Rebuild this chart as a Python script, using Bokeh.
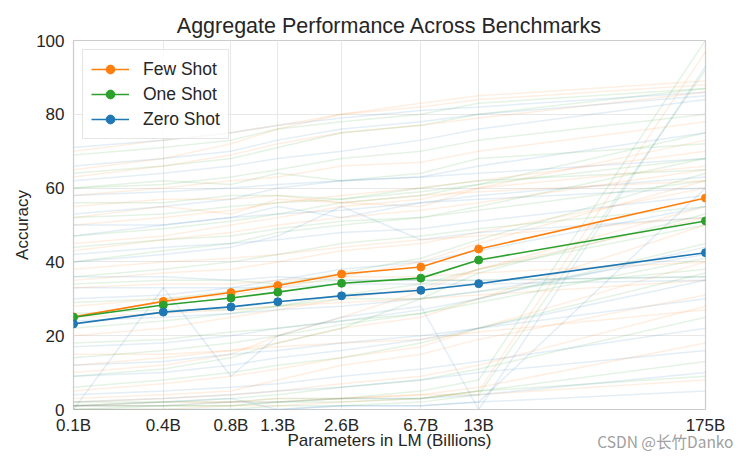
from bokeh.plotting import figure
from bokeh.models import FixedTicker, Legend, LegendItem, Title
from bokeh.embed import file_html
from bokeh.resources import INLINE

params = [0.125, 0.35, 0.76, 1.3, 2.7, 6.7, 13, 175]
tick_labels = ["0.1B", "0.4B", "0.8B", "1.3B", "2.6B", "6.7B", "13B", "175B"]

few_shot = [25.1, 29.3, 31.7, 33.6, 36.7, 38.6, 43.5, 57.3]
one_shot = [25.0, 28.3, 30.2, 31.8, 34.2, 35.6, 40.5, 51.1]
zero_shot = [23.2, 26.4, 27.8, 29.2, 30.8, 32.3, 34.1, 42.5]

few_bg = [
    [63, 66, 69, 72, 75, 77, 79, 86],
    [58, 60, 62, 63, 66, 67, 70, 78],
    [50, 52, 54, 56, 58, 60, 62, 70],
    [43, 46, 48, 50, 52, 54, 56, 65],
    [35, 37, 38, 40, 43, 45, 48, 60],
    [33, 34, 34, 35, 36, 36, 37, 40],
    [28, 30, 31, 33, 36, 40, 45, 62],
    [20, 22, 25, 27, 30, 33, 38, 55],
    [12, 14, 16, 18, 22, 25, 30, 50],
    [5, 7, 9, 11, 14, 17, 22, 40],
    [2, 3, 4, 5, 7, 9, 12, 28],
    [1, 1, 2, 2, 3, 4, 6, 18],
    [0, 0, 1, 1, 2, 3, 5, 97],
    [65, 68, 72, 76, 80, 83, 85, 89],
    [55, 57, 57, 58, 56, 58, 59, 62],
    [25, 26, 27, 28, 29, 30, 31, 35],
    [45, 47, 50, 52, 55, 57, 60, 73],
    [10, 12, 15, 20, 25, 32, 38, 52],
    [3, 4, 5, 8, 12, 15, 19, 31],
    [38, 40, 41, 42, 44, 46, 47, 52],
    [70, 73, 75, 77, 80, 82, 84, 88],
    [15, 15, 16, 17, 18, 19, 21, 27],
    [52, 55, 53, 57, 56, 55, 60, 66],
    [1, 2, 2, 3, 3, 4, 4, 8],
]

one_bg = [
    [64, 66, 68, 71, 75, 77, 80, 87],
    [60, 61, 63, 65, 68, 70, 73, 80],
    [52, 53, 55, 56, 57, 59, 61, 68],
    [44, 46, 47, 49, 51, 52, 54, 62],
    [34, 35, 35, 34, 35, 35, 35, 36],
    [29, 30, 32, 34, 37, 41, 46, 64],
    [22, 24, 26, 28, 31, 34, 38, 50],
    [14, 16, 18, 20, 23, 26, 30, 45],
    [6, 8, 10, 12, 14, 18, 22, 37],
    [2, 2, 3, 4, 6, 8, 11, 25],
    [1, 1, 1, 2, 2, 3, 5, 13],
    [0, 0, 0, 1, 1, 2, 4, 92],
    [0, 1, 1, 2, 3, 5, 8, 100],
    [69, 71, 73, 76, 78, 80, 83, 87],
    [56, 56, 58, 58, 57, 60, 62, 65],
    [40, 43, 45, 48, 50, 52, 55, 68],
    [26, 27, 27, 28, 30, 30, 32, 38],
    [9, 11, 14, 18, 22, 30, 37, 53],
    [47, 49, 51, 53, 56, 58, 61, 75],
    [60, 62, 61, 64, 62, 64, 68, 72],
    [1, 2, 2, 3, 3, 3, 5, 9],
    [18, 19, 21, 22, 24, 26, 29, 41],
    [36, 38, 40, 42, 45, 47, 49, 55],
]

zero_bg = [
    [62, 64, 66, 68, 70, 73, 76, 84],
    [66, 68, 70, 73, 76, 78, 80, 85],
    [53, 55, 57, 60, 62, 63, 66, 75],
    [47, 50, 52, 55, 52, 56, 58, 63],
    [42, 44, 45, 46, 48, 49, 51, 58],
    [36, 36, 35, 36, 35, 35, 35, 36],
    [33, 33, 33, 33, 34, 34, 34, 35],
    [0, 33, 9, 20, 25, 28, 0, 93],
    [24, 25, 26, 27, 28, 30, 32, 42],
    [17, 18, 20, 22, 24, 27, 30, 44],
    [9, 10, 12, 14, 16, 19, 22, 35],
    [4, 5, 6, 7, 9, 11, 13, 22],
    [1, 1, 2, 2, 3, 3, 4, 10],
    [0, 0, 0, 0, 1, 1, 2, 5],
    [1, 2, 3, 0, 1, 1, 2, 60],
    [58, 59, 60, 61, 62, 63, 64, 68],
    [50, 50, 52, 53, 54, 56, 57, 60],
    [30, 31, 33, 35, 38, 40, 43, 55],
    [12, 13, 15, 16, 18, 20, 22, 30],
    [71, 73, 75, 77, 79, 81, 82, 86],
    [2, 3, 4, 5, 6, 8, 10, 16],
    [40, 42, 44, 47, 55, 46, 48, 52],
]

ORANGE = "#ff7f0e"
GREEN = "#2ca02c"
BLUE = "#1f77b4"
FONT = "Liberation Sans"
TEXT = "#262626"

p = figure(width=740, height=452, x_axis_type="log",
           x_range=(0.125, 175), y_range=(0, 100),
           output_backend="svg", toolbar_location=None,
           min_border_left=73, min_border_right=35,
           min_border_top=40, min_border_bottom=42)

p.title.text = "Aggregate Performance Across Benchmarks"
p.title.align = "center"
p.title.text_font = FONT
p.title.text_font_size = "21.5px"
p.title.text_font_style = "normal"
p.title.text_color = TEXT
p.title.standoff = 5

for series, col in ((few_bg, ORANGE), (one_bg, GREEN), (zero_bg, BLUE)):
    for ys in series:
        p.line(params, ys, color=col, alpha=0.12, line_width=1.5)

items = []
for name, ys, col in (("Few Shot", few_shot, ORANGE),
                      ("One Shot", one_shot, GREEN),
                      ("Zero Shot", zero_shot, BLUE)):
    r1 = p.line(params, ys, color=col, line_width=1.6)
    r2 = p.scatter(params, ys, color=col, size=8)
    items.append(LegendItem(label=name, renderers=[r1, r2]))

legend = Legend(items=items, location="top_left",
                label_text_font=FONT, label_text_font_size="17.5px",
                label_text_color=TEXT, glyph_width=38, glyph_height=22,
                label_standoff=14, spacing=3, padding=8, margin=9,
                border_line_color="#cccccc", border_line_width=1,
                background_fill_color="white", background_fill_alpha=0.8)
p.add_layout(legend)

p.xaxis.ticker = FixedTicker(ticks=params)
p.xaxis.major_label_overrides = {v: t for v, t in zip(params, tick_labels)}
p.yaxis.ticker = FixedTicker(ticks=[0, 20, 40, 60, 80, 100])

for ax in (p.xaxis[0], p.yaxis[0]):
    ax.major_tick_line_color = None
    ax.minor_tick_line_color = None
    ax.axis_line_color = None
    ax.major_label_text_font = FONT
    ax.major_label_text_font_size = "17px"
    ax.major_label_text_color = TEXT
    ax.axis_label_text_font = FONT
    ax.axis_label_text_font_size = "17px"
    ax.axis_label_text_font_style = "normal"
    ax.axis_label_text_color = TEXT

p.xaxis.axis_label = "Parameters in LM (Billions)"
p.yaxis.axis_label = "Accuracy"
p.xaxis.major_label_standoff = 0
p.xaxis.axis_label_standoff = -7
p.yaxis.major_label_standoff = 3
p.yaxis.axis_label_standoff = 1

p.xgrid.grid_line_color = "#e8e8e8"
p.ygrid.grid_line_color = "#e8e8e8"
p.outline_line_color = "#cccccc"
p.outline_line_width = 1.2
p.background_fill_color = "white"
p.border_fill_color = "white"

# watermark: a zero-height title placed next to the frame, drawn down
# into the row of the x-axis label
wm = Title(text="CSDN @长竹Danko", align="right", offset=-28, standoff=-84,
           text_font="Noto Sans CJK SC", text_font_size="15.5px",
           text_font_style="normal", text_color="#a0a0a0")
p.below = [wm] + list(p.below)

open("out.html", "w").write(file_html(p, INLINE))
